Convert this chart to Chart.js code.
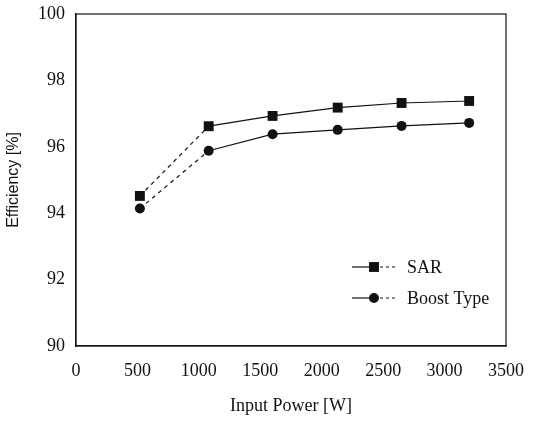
<!DOCTYPE html>
<html>
<head>
<meta charset="utf-8">
<script src="https://cdn.jsdelivr.net/npm/chart.js@4.4.1/dist/chart.umd.min.js"></script>
<style>
  html,body{margin:0;padding:0;background:#fff;}
  #wrap{width:534px;height:421px;}
</style>
</head>
<body>
<div id="wrap"><canvas id="effChart" width="534" height="421"></canvas></div>
<script>
const powerW   = [520, 1080, 1600, 2130, 2650, 3200];
const sarEff   = [94.52, 96.62, 96.93, 97.18, 97.32, 97.38];
const boostEff = [94.14, 95.88, 96.38, 96.51, 96.63, 96.72];
const xTicks   = [0, 500, 1000, 1500, 2000, 2500, 3000, 3500];
const yTicks   = [90, 92, 94, 96, 98, 100];

const INK = '#111';
const SERIF = "'Liberation Serif', 'DejaVu Serif', serif";
const SANS  = "'Liberation Sans', Arial, sans-serif";

const toPts = ys => powerW.map((x, i) => ({x, y: ys[i]}));
// first segment is drawn dashed in the original
const firstDashed = {borderDash: ctx => ctx.p0DataIndex === 0 ? [4, 4] : undefined};

// frame around the plot + legend inside the plot area
const framePlugin = {
  id: 'frame',
  afterDatasetsDraw(chart) {
    const {ctx, chartArea: a} = chart;
    ctx.save();
    ctx.strokeStyle = INK;
    ctx.lineWidth = 1.2;
    ctx.strokeRect(a.left, a.top, a.right - a.left, a.bottom - a.top);

    const lx = a.right - 154, ly = a.bottom - 79;
    chart.data.datasets.forEach((ds, i) => {
      const y = ly + i * 31;
      ctx.strokeStyle = INK;
      ctx.fillStyle = INK;
      ctx.lineWidth = 1.2;
      ctx.setLineDash([]);
      ctx.beginPath(); ctx.moveTo(lx, y); ctx.lineTo(lx + 22, y); ctx.stroke();
      ctx.setLineDash([3, 3]);
      ctx.beginPath(); ctx.moveTo(lx + 22, y); ctx.lineTo(lx + 44, y); ctx.stroke();
      ctx.setLineDash([]);
      Chart.helpers.drawPoint(ctx, {pointStyle: ds.pointStyle, rotation: 0, borderWidth: 0,
        radius: ds.pointRadius}, lx + 22, y);
      ctx.fillStyle = INK;
      ctx.font = '18px ' + SERIF;
      ctx.textBaseline = 'middle';
      ctx.textAlign = 'left';
      ctx.fillText(ds.label, lx + 55, y + 1);
    });
    ctx.restore();
  }
};

new Chart(document.getElementById('effChart'), {
  type: 'line',
  data: {
    datasets: [
      {label: 'SAR', data: toPts(sarEff), borderColor: INK, backgroundColor: INK,
       borderWidth: 1.2, pointStyle: 'rect', pointRadius: 7, pointBorderWidth: 0,
       tension: 0, segment: firstDashed},
      {label: 'Boost Type', data: toPts(boostEff), borderColor: INK, backgroundColor: INK,
       borderWidth: 1.2, pointStyle: 'circle', pointRadius: 5, pointBorderWidth: 0,
       tension: 0, segment: firstDashed}
    ]
  },
  options: {
    responsive: false,
    animation: false,
    layout: {padding: {top: 14, right: 28, left: 0, bottom: 0}},
    plugins: {legend: {display: false}, tooltip: {enabled: false}},
    scales: {
      x: {
        type: 'linear', min: 0, max: 3500,
        afterBuildTicks: s => { s.ticks = xTicks.map(v => ({value: v})); },
        afterFit: s => { s.height = 75; },
        grid: {display: false},
        border: {color: INK, width: 1.2},
        ticks: {color: INK, font: {family: SERIF, size: 18}, padding: 6, maxRotation: 0,
                callback: v => String(v)},
        title: {display: true, text: 'Input Power [W]', color: INK,
                font: {family: SERIF, size: 18}, padding: {top: 4}}
      },
      y: {
        min: 90, max: 100,
        afterBuildTicks: s => { s.ticks = yTicks.map(v => ({value: v})); },
        afterFit: s => { s.width = 76; },
        grid: {display: false},
        border: {color: INK, width: 1.2},
        ticks: {color: INK, font: {family: SERIF, size: 18}, padding: 3,
                callback: v => String(v)},
        title: {display: true, text: 'Efficiency [%]', color: INK,
                font: {family: SANS, size: 16}, padding: {bottom: 4}}
      }
    }
  },
  plugins: [framePlugin]
});
</script>
</body>
</html>
